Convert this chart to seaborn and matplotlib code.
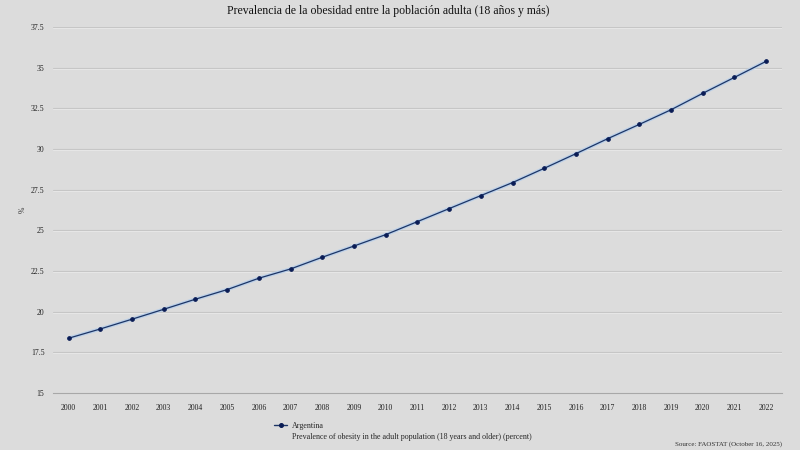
import matplotlib
matplotlib.use("Agg")
import matplotlib.pyplot as plt
from matplotlib.lines import Line2D
from matplotlib.ticker import FixedLocator, FuncFormatter
import seaborn as sns
import pandas as pd

# data
years = list(range(2000, 2023))
obesity = [18.36, 18.93, 19.53, 20.14, 20.76, 21.35, 22.05, 22.62, 23.34, 24.03,
           24.73, 25.53, 26.33, 27.13, 27.93, 28.81, 29.71, 30.63, 31.51, 32.41,
           33.42, 34.40, 35.39]
y_ticks = [15, 17.5, 20, 22.5, 25, 27.5, 30, 32.5, 35, 37.5]

title = "Prevalencia de la obesidad entre la población adulta (18 años y más)"
series_name = "Argentina"
indicator = "Prevalence of obesity in the adult population (18 years and older) (percent)"
source = "Source: FAOSTAT (October 16, 2025)"

df = pd.DataFrame({"year": years, "value": obesity})

bg = "#dcdcdc"
sns.set_theme(style="white")
plt.rcParams["font.family"] = ["Liberation Serif", "DejaVu Serif"]

fig = plt.figure(figsize=(8, 4.5), dpi=100, facecolor=bg)
ax = fig.add_axes([0.066, 0.127, 0.9115, 0.813])
ax.set_facecolor(bg)

# light halo under the line, then the line itself
sns.lineplot(data=df, x="year", y="value", ax=ax, color="#bcd0e8", linewidth=2.6,
             legend=False, zorder=2)
sns.lineplot(data=df, x="year", y="value", ax=ax, color="#1c3566", linewidth=0.9,
             marker="o", markersize=2.6, markerfacecolor="#0a1c55",
             markeredgecolor="#0a1c55", legend=False, zorder=3)

ax.set_xlim(1999.5, 2022.5)
ax.set_ylim(15, 37.5)

# horizontal gridlines
for t in y_ticks[1:]:
    ax.axhline(t - 0.06, color="#e8e8e8", linewidth=0.8, zorder=1)
    ax.axhline(t, color="#c6c6c6", linewidth=0.8, zorder=1)

ax.xaxis.set_major_locator(FixedLocator(years))
ax.xaxis.set_minor_locator(FixedLocator([y - 0.5 for y in years] + [2022.5]))
ax.set_xticks(years)
ax.set_xticklabels([str(y) for y in years], fontsize=5.6)
ax.set_yticks(y_ticks)
ax.yaxis.set_major_formatter(FuncFormatter(lambda v, p: f"{v:g}"))
ax.tick_params(axis="y", labelsize=5.6, length=0, pad=6, colors="#222222")
ax.tick_params(axis="x", which="major", length=0, pad=8, colors="#222222")
ax.tick_params(axis="x", which="minor", length=4, width=0.6, color="#b0b0b0", direction="out")

for s in ["top", "right", "left"]:
    ax.spines[s].set_visible(False)
ax.spines["bottom"].set_color("#a8a8a8")
ax.spines["bottom"].set_linewidth(0.8)

ax.set_xlabel("")
ax.set_ylabel("%", fontsize=5.5, labelpad=3, color="#333333")

fig.text(0.485, 0.975, title, ha="center", va="center", fontsize=8.5, color="#111111")

handles = [Line2D([0], [0], color="#1c3566", linewidth=1.0, marker="o", markersize=2.6,
                  markerfacecolor="#0a1c55", markeredgecolor="#0a1c55"),
           Line2D([0], [0], color="none")]
fig.legend(handles, [series_name, indicator], loc="upper left",
           bbox_to_anchor=(0.343, 0.062), frameon=False, fontsize=5.8,
           handlelength=1.6, handletextpad=0.6, labelspacing=0.4,
           borderpad=0, borderaxespad=0)

fig.text(0.978, 0.013, source, ha="right", va="center", fontsize=5, color="#333333")

fig.savefig("out.png", dpi=100, facecolor=bg)
